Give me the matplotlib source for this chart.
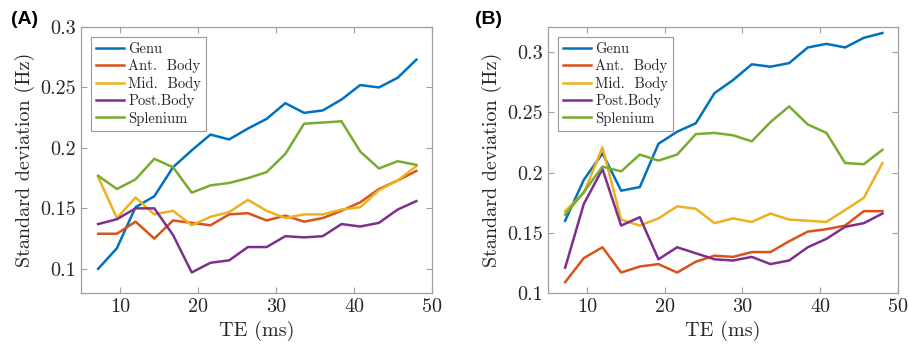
import matplotlib
matplotlib.use("Agg")
import matplotlib.pyplot as plt
import numpy as np

te = [7.2, 9.6, 12.0, 14.4, 16.8, 19.2, 21.6, 24.0, 26.4, 28.8, 31.2, 33.6, 36.0, 38.4, 40.8, 43.2, 45.6, 48.0]
labels = ["Genu", "Ant.  Body", "Mid.  Body", "Post.Body", "Splenium"]
colors = ["#0072BD", "#D95319", "#EDB120", "#7E2F8E", "#77AC30"]

# Panel A
genu_a = [0.100, 0.117, 0.151, 0.160, 0.184, 0.198, 0.211, 0.207, 0.216, 0.224, 0.237, 0.229, 0.231, 0.240, 0.252, 0.250, 0.258, 0.273]
ant_a = [0.129, 0.129, 0.139, 0.125, 0.140, 0.138, 0.136, 0.145, 0.146, 0.140, 0.144, 0.139, 0.142, 0.148, 0.155, 0.166, 0.173, 0.181]
mid_a = [0.176, 0.142, 0.159, 0.145, 0.148, 0.136, 0.143, 0.147, 0.157, 0.148, 0.142, 0.145, 0.145, 0.149, 0.151, 0.165, 0.173, 0.185]
post_a = [0.137, 0.141, 0.150, 0.150, 0.128, 0.097, 0.105, 0.107, 0.118, 0.118, 0.127, 0.126, 0.127, 0.137, 0.135, 0.138, 0.149, 0.156]
splen_a = [0.177, 0.166, 0.174, 0.191, 0.184, 0.163, 0.169, 0.171, 0.175, 0.180, 0.195, 0.220, 0.221, 0.222, 0.197, 0.183, 0.189, 0.186]

# Panel B
genu_b = [0.160, 0.194, 0.216, 0.185, 0.188, 0.224, 0.234, 0.241, 0.266, 0.277, 0.290, 0.288, 0.291, 0.304, 0.307, 0.304, 0.312, 0.316]
ant_b = [0.109, 0.129, 0.138, 0.117, 0.122, 0.124, 0.117, 0.126, 0.131, 0.130, 0.134, 0.134, 0.143, 0.151, 0.153, 0.156, 0.168, 0.168]
mid_b = [0.168, 0.183, 0.221, 0.161, 0.156, 0.162, 0.172, 0.170, 0.158, 0.162, 0.159, 0.166, 0.161, 0.160, 0.159, 0.169, 0.179, 0.208]
post_b = [0.121, 0.174, 0.203, 0.156, 0.163, 0.128, 0.138, 0.133, 0.128, 0.127, 0.130, 0.124, 0.127, 0.138, 0.145, 0.155, 0.158, 0.166]
splen_b = [0.165, 0.184, 0.205, 0.201, 0.215, 0.210, 0.215, 0.232, 0.233, 0.231, 0.226, 0.242, 0.255, 0.240, 0.233, 0.208, 0.207, 0.219]

xticks = [10, 20, 30, 40, 50]
yticks_a = [0.1, 0.15, 0.2, 0.25, 0.3]
yticks_b = [0.1, 0.15, 0.2, 0.25, 0.3]

plt.rcParams["font.family"] = ["serif"]
plt.rcParams["font.serif"] = ["cmr10", "DejaVu Serif"]
plt.rcParams["mathtext.fontset"] = "cm"
plt.rcParams["axes.formatter.use_mathtext"] = True

fig = plt.figure(figsize=(9.09, 3.53), dpi=100)
axA = fig.add_axes([0.0891, 0.170, 0.3861, 0.7535])
axB = fig.add_axes([0.6029, 0.170, 0.3850, 0.7535])

def style(ax, series, ylim, yticks):
    for vals, lab, c in zip(series, labels, colors):
        ax.plot(te, vals, color=c, lw=1.8, label=lab)
    ax.set_xlim(5, 50)
    ax.set_ylim(*ylim)
    ax.set_xticks(xticks)
    ax.set_xticklabels([str(t) for t in xticks])
    ax.set_yticks(yticks)
    ax.set_yticklabels(["%g" % t for t in yticks])
    ax.tick_params(direction="in", top=True, right=True, labelsize=14.5,
                   colors="#262626", length=4, width=0.8)
    for sp in ax.spines.values():
        sp.set_color("#a0a0a0")
        sp.set_linewidth(0.9)
    ax.tick_params(axis="both", which="both", color="#a0a0a0")
    ax.set_xlabel("TE (ms)", fontsize=14.5, color="#262626", labelpad=4)
    ax.set_ylabel("Standard deviation (Hz)", fontsize=14.5, color="#262626", labelpad=4)
    leg = ax.legend(loc="upper left", fontsize=10.5, frameon=True, fancybox=False,
                    edgecolor="#7f7f7f", handlelength=1.9, handletextpad=0.3,
                    labelspacing=0.22, borderaxespad=0.7, borderpad=0.35)
    leg.get_frame().set_linewidth(0.8)
    for t in leg.get_texts():
        t.set_color("#262626")

style(axA, [genu_a, ant_a, mid_a, post_a, splen_a], (0.08, 0.30), yticks_a)
style(axB, [genu_b, ant_b, mid_b, post_b, splen_b], (0.10, 0.321), yticks_b)

fig.text(0.012, 0.945, "(A)", fontsize=14, fontweight="bold", family="Liberation Sans", va="center")
fig.text(0.523, 0.945, "(B)", fontsize=14, fontweight="bold", family="Liberation Sans", va="center")

fig.savefig("out.png", dpi=100)
